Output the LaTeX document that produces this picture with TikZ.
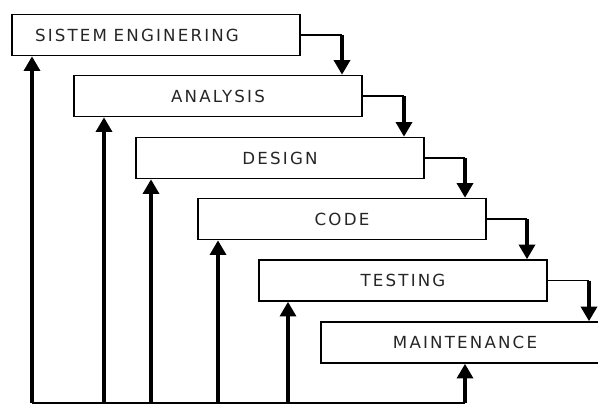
\documentclass[tikz,border=0pt]{standalone}
\usepackage{fontspec}
\setmainfont{DejaVu Sans}[LetterSpace=13]
\usetikzlibrary{arrows.meta}
\begin{document}
\begin{tikzpicture}[x=0.75pt,y=-0.75pt,
  box/.style={draw, line width=1.2pt, minimum width=216pt, minimum height=30.75pt,
    inner sep=0pt, font=\fontsize{12.5pt}{14pt}\selectfont, text=black!85},
  uparrow/.style={line width=2.6pt, -{Triangle[length=11pt,width=12pt]}},
  downarrow/.style={line width=2.6pt, -{Triangle[length=11pt,width=12pt]}},
  link/.style={line width=1.4pt},
  baseline/.style={line width=1.6pt}]
\useasboundingbox (0,0) rectangle (598,405);
\clip (0,0) rectangle (598,405);
% boxes
\node[box, text width=181.5pt, align=left, inner xsep=17.25pt] (s1) at (156,35) {SISTEM\hspace{0.4em}ENGINERING};
\node[box] (s2) at (218,96) {ANALYSIS};
\node[box] (s3) at (280,158) {DESIGN};
\node[box] (s4) at (342,219) {CODE};
\node[box] (s5) at (403,280.5) {TESTING};
\node[box] (s6) at (465,342.5) {MAINTENANCE};
% forward connectors
\coordinate (d1) at (342,35);
\coordinate (d2) at (404,96);
\coordinate (d3) at (465,158);
\coordinate (d4) at (527,219);
\coordinate (d5) at (589,280.5);
\draw[link] (s1.east) -- (d1);
\draw[link] (s2.east) -- (d2);
\draw[link] (s3.east) -- (d3);
\draw[link] (s4.east) -- (d4);
\draw[link] (s5.east) -- (d5);
\draw[downarrow] (d1) -- (d1 |- s2.north);
\draw[downarrow] (d2) -- (d2 |- s3.north);
\draw[downarrow] (d3) -- (d3 |- s4.north);
\draw[downarrow] (d4) -- (d4 |- s5.north);
\draw[downarrow] (d5) -- (d5 |- s6.north);
% feedback lines
\coordinate (b1) at (32,403);
\coordinate (b2) at (104,403);
\coordinate (b3) at (151,403);
\coordinate (b4) at (218,403);
\coordinate (b5) at (288,403);
\coordinate (b6) at (465,403);
\draw[baseline] (b1) -- (b6);
\draw[uparrow] (b1) -- (b1 |- s1.south);
\draw[uparrow] (b2) -- (b2 |- s2.south);
\draw[uparrow] (b3) -- (b3 |- s3.south);
\draw[uparrow] (b4) -- (b4 |- s4.south);
\draw[uparrow] (b5) -- (b5 |- s5.south);
\draw[uparrow] (b6) -- (b6 |- s6.south);
\end{tikzpicture}
\end{document}
